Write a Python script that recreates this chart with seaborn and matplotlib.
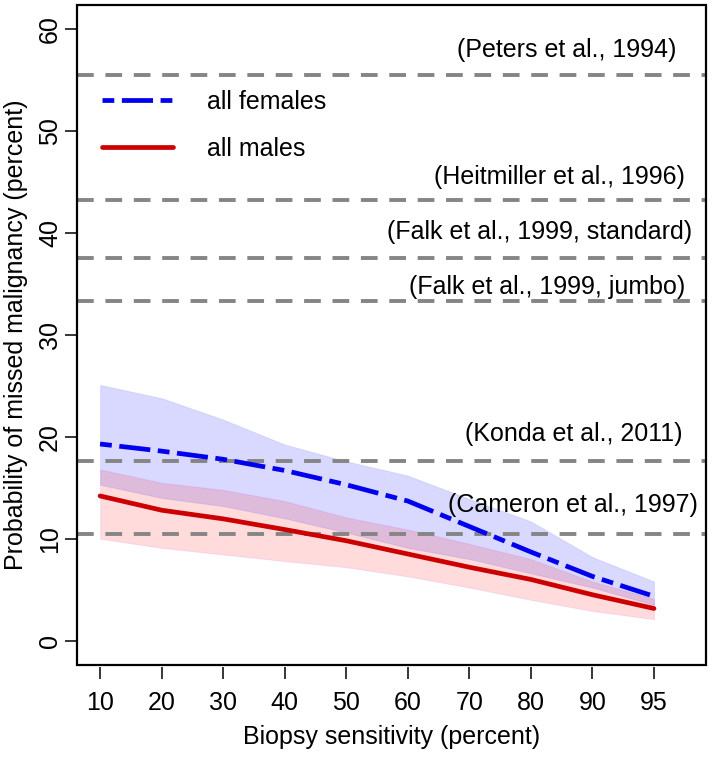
import numpy as np
import pandas as pd
import seaborn as sns
import matplotlib
matplotlib.use('Agg')
import matplotlib.pyplot as plt
from matplotlib.patches import Rectangle

sns.set_style('ticks')
plt.rcParams['font.family'] = ['Liberation Sans', 'DejaVu Sans']
plt.rcParams['text.color'] = 'black'
plt.rcParams['axes.labelcolor'] = 'black'

# biopsy sensitivity categories (equally spaced on the axis)
sensitivity = [10, 20, 30, 40, 50, 60, 70, 80, 90, 95]

# probability of missed malignancy (percent)
fem_mean = [19.3, 18.6, 17.8, 16.7, 15.3, 13.7, 11.2, 8.7, 6.3, 4.35]
fem_hi = [25.1, 23.8, 21.7, 19.25, 17.6, 16.2, 13.9, 11.7, 8.2, 5.8]
fem_lo = [15.3, 14.0, 13.2, 12.0, 10.6, 9.1, 8.0, 6.6, 5.2, 3.5]
male_mean = [14.2, 12.8, 11.95, 10.9, 9.8, 8.5, 7.2, 6.0, 4.5, 3.15]
male_hi = [16.8, 15.5, 14.8, 13.7, 12.1, 10.9, 9.5, 8.0, 5.8, 4.1]
male_lo = [10.0, 9.1, 8.45, 7.8, 7.2, 6.3, 5.2, 4.0, 2.9, 2.1]

# published estimates
ref_y = [55.5, 43.3, 37.6, 33.3, 17.6, 10.5]
ref_labels = ['(Peters et al., 1994)', '(Heitmiller et al., 1996)',
              '(Falk et al., 1999, standard)', '(Falk et al., 1999, jumbo)',
              '(Konda et al., 2011)', '(Cameron et al., 1997)']

# label placement (x centre in axis units, offset above line)
lab_x = [7.58, 7.46, 7.14, 7.27, 7.70, 7.69]
lab_dy = [2.5, 2.25, 2.55, 1.45, 2.65, 2.85]

pos = np.arange(len(sensitivity))
df = pd.DataFrame({
    'pos': np.concatenate([pos, pos]),
    'prob': fem_mean + male_mean,
    'group': ['all females'] * len(pos) + ['all males'] * len(pos),
})

blue = '#0000EE'
red = '#CC0000'
fs = 18

fig = plt.figure(figsize=(7.14, 7.57), dpi=100)
ax = fig.add_axes([0.1074, 0.1215, 0.881, 0.8719])

ax.fill_between(pos, fem_lo, fem_hi, facecolor=(0, 0, 1, 0.15),
                edgecolor=(0, 0, 1, 0.08), lw=0.8, zorder=1)
ax.fill_between(pos, male_lo, male_hi, facecolor=(1, 0, 0, 0.14),
                edgecolor=(0.6, 0, 1, 0.08), lw=0.8, zorder=1)

for y in ref_y:
    ax.axhline(y, color='#858585', lw=2.8, dashes=(4.3, 3.0),
               dash_capstyle='butt', zorder=2)

# females drawn "twodash" like base R
sns.lineplot(data=df, x='pos', y='prob', hue='group', style='group',
             palette={'all females': blue, 'all males': red},
             dashes={'all females': (2.5, 1.6, 6.6, 1.6), 'all males': ''},
             lw=3.4, legend=False, ax=ax, zorder=3)

lines = ax.get_lines()[-2:]
ax.legend(lines, ['all females', 'all males'], loc='upper left',
          bbox_to_anchor=(0.04, 0.871), frameon=False, fontsize=fs,
          handlelength=2.85, handletextpad=1.35, labelspacing=0.9,
          borderpad=0, borderaxespad=0)

for y, t, x, dy in zip(ref_y, ref_labels, lab_x, lab_dy):
    ax.text(x, y + dy, t, ha='center', va='center', fontsize=fs,
            color='black', zorder=4)

ax.set_xlim(-0.38, 9.84)
ax.set_ylim(-2.4, 62.4)
ax.set_xticks(pos)
ax.set_xticklabels([str(s) for s in sensitivity])
ax.set_yticks([0, 10, 20, 30, 40, 50, 60])
ax.set_yticklabels(['0', '10', '20', '30', '40', '50', '60'],
                   rotation=90, va='center')
ax.tick_params(axis='both', length=8.5, width=1.1, labelsize=fs,
               colors='black')
ax.tick_params(axis='x', pad=9)
ax.tick_params(axis='y', pad=2)

# x ticks sit a little below the box, as in base R
ax.spines['bottom'].set_position(('outward', 1.5))
for s in ax.spines.values():
    s.set_visible(False)
ax.add_patch(Rectangle((0, 0), 1, 1, transform=ax.transAxes, fill=False,
                       lw=1.6, edgecolor='black', clip_on=False, zorder=5))

ax.set_xlabel('Biopsy sensitivity (percent)', fontsize=fs)
ax.set_ylabel('Probability of missed malignancy (percent)', fontsize=fs)
ax.xaxis.set_label_coords(0.5, -0.091)
ax.yaxis.set_label_coords(-0.078, 0.5)

fig.savefig('out.png', dpi=100)
